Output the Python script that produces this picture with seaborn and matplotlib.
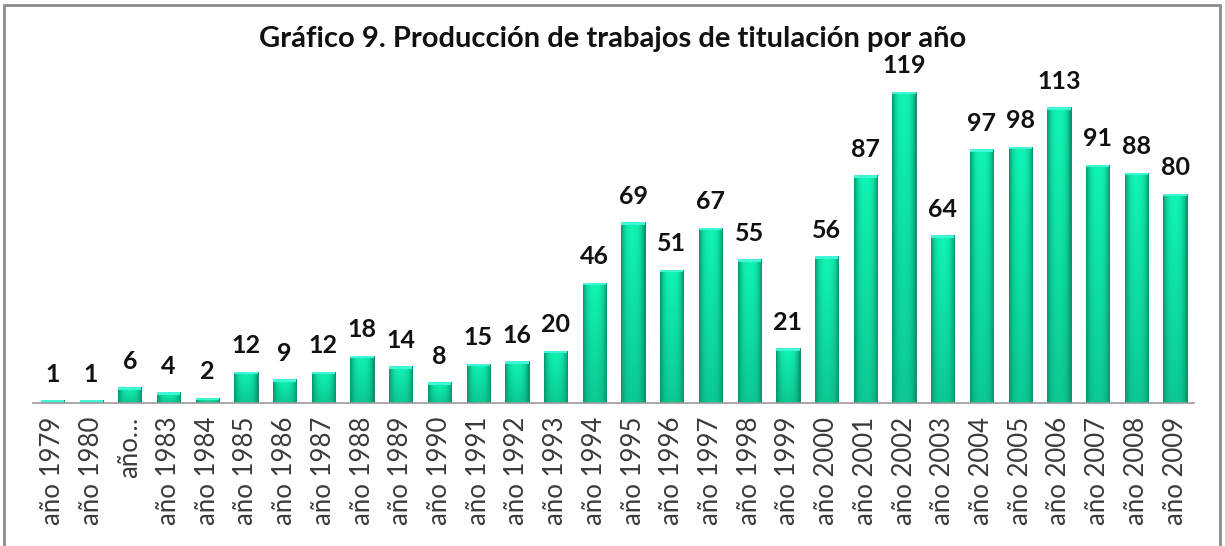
import numpy as np
import pandas as pd
import matplotlib
matplotlib.use("Agg")
import matplotlib.pyplot as plt
import seaborn as sns
from matplotlib.colors import to_rgb
from matplotlib.patches import Rectangle

# data
years = ["año 1979", "año 1980", "año…", "año 1983", "año 1984", "año 1985",
         "año 1986", "año 1987", "año 1988", "año 1989", "año 1990", "año 1991",
         "año 1992", "año 1993", "año 1994", "año 1995", "año 1996", "año 1997",
         "año 1998", "año 1999", "año 2000", "año 2001", "año 2002", "año 2003",
         "año 2004", "año 2005", "año 2006", "año 2007", "año 2008", "año 2009"]
trabajos = [1, 1, 6, 4, 2, 12, 9, 12, 18, 14, 8, 15, 16, 20, 46, 69, 51, 67,
            55, 21, 56, 87, 119, 64, 97, 98, 113, 91, 88, 80]
title = "Gráfico 9. Producción de trabajos de titulación por año"

df = pd.DataFrame({"anio": years, "n": trabajos})

sns.set_style("white")
plt.rcParams["font.family"] = ["Lato", "DejaVu Sans"]

fig = plt.figure(figsize=(12.25, 5.46), dpi=100)
ax = fig.add_axes([0.027, 0.262, 0.948, 0.623])

sns.barplot(data=df, x="anio", y="n", color="#10c890", width=0.6, ax=ax,
            saturation=1)

# shaded fill for each bar (light centre, darker edges and bottom)
light = np.array(to_rgb("#10f4b4"))
dark = np.array(to_rgb("#08946c"))
xs = np.linspace(-1, 1, 40)
hx = 1 - np.abs(xs) ** 3
ys = np.linspace(0, 1, 60)[:, None]
for p in ax.patches:
    x0, y0 = p.get_x(), p.get_y()
    w, h = p.get_width(), p.get_height()
    t = (hx[None, :] * (0.55 + 0.45 * ys))[..., None]
    img = dark + (light - dark) * t
    im = ax.imshow(img, extent=[x0, x0 + w, y0, y0 + h], origin="lower",
                   aspect="auto", zorder=p.get_zorder() + 0.1, interpolation="bilinear")
    im.set_clip_path(p)
    p.set_edgecolor("#0b7c5c")
    p.set_linewidth(0.6)
    # thin bright cap on top
    ax.add_patch(Rectangle((x0, y0 + h - 1.0), w, 1.0, color="#40f6d6",
                           zorder=p.get_zorder() + 0.2, lw=0))

for i, v in enumerate(trabajos):
    ax.text(i, v + 5.5, str(v), ha="center", va="bottom", fontsize=18,
            fontweight="bold", color="#111111")

ax.set_xlim(-0.5, len(years) - 0.5)
ax.set_ylim(0, 130)
ax.set_xlabel("")
ax.set_ylabel("")
ax.set_yticks([])
ax.tick_params(axis="x", length=0, pad=10, labelsize=18.5, labelcolor="#3a3a3a")
plt.setp(ax.get_xticklabels(), rotation=90)
for s in ["top", "right", "left"]:
    ax.spines[s].set_visible(False)
ax.spines["bottom"].set_color("#999999")
ax.spines["bottom"].set_linewidth(1.2)

fig.text(0.5, 0.928, title, ha="center", va="center", fontsize=21,
         fontweight="bold", color="#111111")

# outer frame
fig.add_artist(Rectangle((0.003, -0.01), 0.993, 1.0, transform=fig.transFigure,
                         fill=False, ec="#8c8c8c", lw=2.0))

fig.savefig("out.png", dpi=100)
